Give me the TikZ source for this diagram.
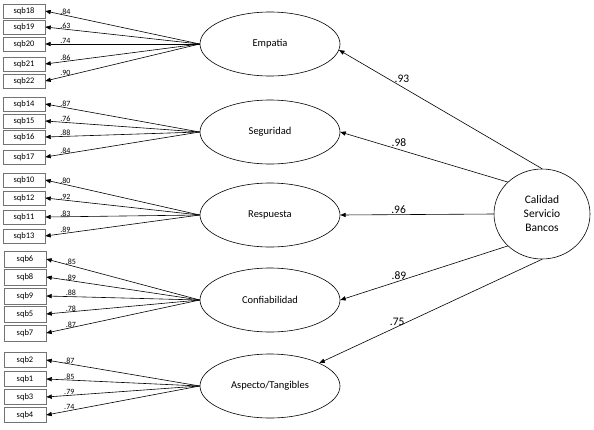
\documentclass[tikz,border=0pt]{standalone}
\usepackage{fontspec}
\setmainfont{Carlito}
\usetikzlibrary{arrows.meta,shapes.geometric}
\tikzset{
  >={Triangle[length=1.9mm,width=1.5mm]},
  x=1pt,y=-1pt,
  factor/.style={draw=black,ellipse,line width=0.6pt,minimum width=96pt,
    minimum height=90pt,inner sep=0pt,align=center,
    font=\fontsize{11.5}{14}\selectfont},
  latent/.style={draw=black,ellipse,line width=0.6pt,minimum width=140pt,
    minimum height=64pt,inner sep=0pt,font=\fontsize{10.5}{12}\selectfont},
  item/.style={draw=black!55,line width=0.6pt,minimum width=42pt,
    minimum height=14pt,inner sep=0pt,font=\fontsize{8.5}{9}\selectfont},
  load/.style={->,line width=0.6pt},
  loadlbl/.style={font=\fontsize{8}{8}\selectfont,inner sep=0.3pt,pos=.87,above},
  regr/.style={->,line width=0.6pt},
  coef/.style={font=\fontsize{11.5}{12}\selectfont,inner sep=1pt,above},
}
\begin{document}
\begin{tikzpicture}
  \useasboundingbox (0,0) rectangle (594,429);
  % second order factor
  \node[factor] (csb) at (542,214) {Calidad\\Servicio\\Bancos};
  % first order factors
  \node[latent] (emp) at (270,44) {Empatia};
  \node[latent] (seg) at (270,132) {Seguridad};
  \node[latent] (resp) at (270,215) {Respuesta};
  \node[latent] (conf) at (270,300) {Confiabilidad};
  \node[latent] (asp) at (270,386) {Aspecto/Tangibles};
  % indicators
  \foreach \n/\y/\c in {18/11/.84,19/27/.63,20/44/.74,21/64/.86,22/81/.90}{
    \node[item] (sqb\n) at (24,\y) {sqb\n};
    \draw[load] (emp.west) -- node[loadlbl]{\c} (sqb\n.east);
  }
  \foreach \n/\y/\c in {14/104/.87,15/121/.76,16/137/.88,17/157/.84}{
    \node[item] (sqb\n) at (24,\y) {sqb\n};
    \draw[load] (seg.west) -- node[loadlbl]{\c} (sqb\n.east);
  }
  \foreach \n/\y/\c in {10/180/.80,12/198/.92,11/217/.83,13/236/.89}{
    \node[item] (sqb\n) at (24,\y) {sqb\n};
    \draw[load] (resp.west) -- node[loadlbl]{\c} (sqb\n.east);
  }
  \foreach \n/\y/\c in {6/259/.85,8/277/.89,9/296/.88,5/314/.78,7/333/.87}{
    \node[item,minimum height=16pt] (sqb\n) at (25,\y) {sqb\n};
    \draw[load] (conf.west) -- node[loadlbl,pos=.84]{\c} (sqb\n.east);
  }
  \foreach \n/\y/\c in {2/360/.87,1/379/.85,3/397/.79,4/415/.74}{
    \node[item,minimum height=15pt] (sqb\n) at (25,\y) {sqb\n};
    \draw[load] (asp.west) -- node[loadlbl,pos=.85]{\c} (sqb\n.east);
  }
  % structural paths
  \draw[regr] (csb.north) -- node[coef,pos=.69,above=3pt]{.93} (emp.-5);
  \draw[regr] (csb.137) -- node[coef,pos=.65,above=2pt]{.98} (seg.east);
  \draw[regr] (csb.west) -- node[coef,pos=.62]{.96} (resp.east);
  \draw[regr] (csb.223) -- node[coef,pos=.65]{.89} (conf.east);
  \draw[regr] (csb.south) -- node[coef,pos=.65]{.75} (asp.25);
\end{tikzpicture}
\end{document}
